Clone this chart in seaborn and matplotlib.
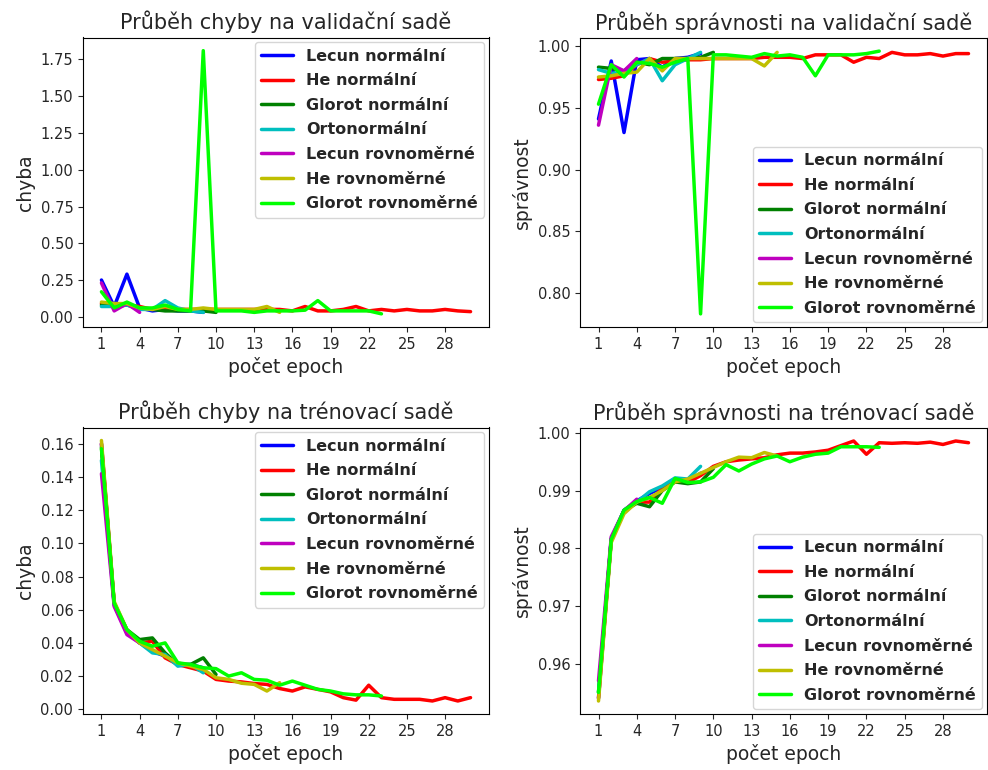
import matplotlib
matplotlib.use("Agg")
import matplotlib.pyplot as plt
import seaborn as sns
import pandas as pd

sns.set_style("ticks")
plt.rcParams["font.family"] = ["DejaVu Sans"]

names = ["Lecun normální", "He normální", "Glorot normální", "Ortonormální",
         "Lecun rovnoměrné", "He rovnoměrné", "Glorot rovnoměrné"]
colors = ["b", "r", "g", "c", "m", "y", "lime"]
xticks = list(range(1, 31, 3))

# ---- validation loss ----
vl_lecun_n = [0.25, 0.07, 0.29, 0.06, 0.04, 0.05, 0.04, 0.04, 0.03]
vl_he_n = [0.09, 0.08, 0.08, 0.07, 0.05, 0.06, 0.05, 0.05, 0.05, 0.05, 0.05, 0.05, 0.05, 0.05, 0.05,
           0.04, 0.07, 0.04, 0.04, 0.05, 0.07, 0.04, 0.05, 0.04, 0.05, 0.04, 0.04, 0.05, 0.04, 0.035]
vl_glorot_n = [0.08, 0.07, 0.08, 0.06, 0.05, 0.04, 0.04, 0.04, 0.04, 0.03]
vl_orto = [0.07, 0.07, 0.08, 0.05, 0.05, 0.11, 0.06, 0.04, 0.03]
vl_lecun_u = [0.23, 0.04, 0.09, 0.03]
vl_he_u = [0.10, 0.09, 0.09, 0.06, 0.05, 0.07, 0.05, 0.05, 0.06, 0.05, 0.05, 0.05, 0.05, 0.07, 0.03]
vl_glorot_u = [0.17, 0.06, 0.10, 0.06, 0.06, 0.08, 0.05, 0.04, 1.81, 0.04, 0.04, 0.04, 0.03, 0.04,
               0.04, 0.04, 0.045, 0.11, 0.04, 0.04, 0.04, 0.04, 0.02]

# ---- validation accuracy ----
va_lecun_n = [0.941, 0.988, 0.930, 0.989, 0.990, 0.983, 0.990, 0.991, 0.994]
va_he_n = [0.973, 0.974, 0.976, 0.985, 0.990, 0.987, 0.988, 0.989, 0.989, 0.990, 0.990, 0.990, 0.990,
           0.991, 0.991, 0.991, 0.990, 0.993, 0.993, 0.993, 0.987, 0.991, 0.990, 0.995, 0.993, 0.993,
           0.994, 0.992, 0.994, 0.994]
va_glorot_n = [0.983, 0.982, 0.980, 0.987, 0.985, 0.990, 0.990, 0.990, 0.991, 0.995]
va_orto = [0.981, 0.978, 0.979, 0.985, 0.990, 0.972, 0.985, 0.990, 0.995]
va_lecun_u = [0.936, 0.985, 0.980, 0.990]
va_he_u = [0.975, 0.976, 0.978, 0.979, 0.990, 0.980, 0.990, 0.990, 0.990, 0.990, 0.990, 0.990, 0.990,
           0.984, 0.995]
va_glorot_u = [0.953, 0.985, 0.975, 0.987, 0.986, 0.983, 0.987, 0.990, 0.783, 0.993, 0.993, 0.992,
               0.991, 0.994, 0.992, 0.993, 0.991, 0.976, 0.993, 0.993, 0.993, 0.994, 0.996]

# ---- training loss ----
tl_lecun_n = [0.160, 0.063, 0.046, 0.040, 0.035, 0.032, 0.027, 0.027, 0.025]
tl_he_n = [0.160, 0.064, 0.047, 0.040, 0.041, 0.031, 0.027, 0.025, 0.023, 0.018, 0.017, 0.0165, 0.0155,
           0.015, 0.0125, 0.011, 0.0135, 0.012, 0.0105, 0.007, 0.0055, 0.0145, 0.007, 0.006, 0.006,
           0.006, 0.005, 0.007, 0.005, 0.007]
tl_glorot_n = [0.158, 0.064, 0.048, 0.042, 0.043, 0.034, 0.027, 0.027, 0.031, 0.021]
tl_orto = [0.150, 0.063, 0.047, 0.040, 0.034, 0.033, 0.026, 0.027, 0.022]
tl_lecun_u = [0.142, 0.062, 0.045, 0.040]
tl_he_u = [0.162, 0.065, 0.048, 0.040, 0.036, 0.032, 0.028, 0.026, 0.024, 0.019, 0.018, 0.0157, 0.015,
           0.011, 0.016]
tl_glorot_u = [0.157, 0.064, 0.048, 0.041, 0.038, 0.040, 0.028, 0.027, 0.025, 0.0245, 0.020, 0.022,
               0.018, 0.0175, 0.0145, 0.017, 0.0145, 0.012, 0.011, 0.0093, 0.0087, 0.0087, 0.008]

# ---- training accuracy ----
ta_lecun_n = [0.954, 0.9817, 0.9866, 0.9882, 0.9895, 0.9905, 0.992, 0.9915, 0.993]
ta_he_n = [0.954, 0.9815, 0.9865, 0.988, 0.988, 0.9905, 0.9915, 0.9914, 0.9926, 0.9942, 0.995, 0.9953,
           0.9955, 0.9957, 0.9962, 0.9965, 0.9965, 0.9967, 0.997, 0.9978, 0.9986, 0.9963, 0.9983,
           0.9982, 0.9983, 0.9982, 0.9984, 0.998, 0.9986, 0.9983]
ta_glorot_n = [0.955, 0.9815, 0.9865, 0.9878, 0.9872, 0.990, 0.9915, 0.9912, 0.9915, 0.9938]
ta_orto = [0.955, 0.9815, 0.9866, 0.988, 0.9898, 0.9908, 0.9922, 0.992, 0.9942]
ta_lecun_u = [0.957, 0.982, 0.9865, 0.9885]
ta_he_u = [0.9535, 0.981, 0.986, 0.988, 0.9888, 0.990, 0.9915, 0.992, 0.993, 0.994, 0.995, 0.9958,
           0.9957, 0.9966, 0.996]
ta_glorot_u = [0.955, 0.9815, 0.9866, 0.9881, 0.9888, 0.9878, 0.9921, 0.9914, 0.9915, 0.9923, 0.9945,
               0.9934, 0.9946, 0.9955, 0.996, 0.995, 0.9958, 0.9963, 0.9965, 0.9976, 0.9976, 0.9976,
               0.9975]

panels = [
    ("Průběh chyby na validační sadě", "chyba", "upper right",
     [vl_lecun_n, vl_he_n, vl_glorot_n, vl_orto, vl_lecun_u, vl_he_u, vl_glorot_u]),
    ("Průběh správnosti na validační sadě", "správnost", "lower right",
     [va_lecun_n, va_he_n, va_glorot_n, va_orto, va_lecun_u, va_he_u, va_glorot_u]),
    ("Průběh chyby na trénovací sadě", "chyba", "upper right",
     [tl_lecun_n, tl_he_n, tl_glorot_n, tl_orto, tl_lecun_u, tl_he_u, tl_glorot_u]),
    ("Průběh správnosti na trénovací sadě", "správnost", "lower right",
     [ta_lecun_n, ta_he_n, ta_glorot_n, ta_orto, ta_lecun_u, ta_he_u, ta_glorot_u]),
]

W, H = 988, 770
# axes boxes in pixels: left, top, right, bottom
boxes = [(83, 37.5, 489, 327), (580, 38, 987, 327),
         (83, 427.5, 489, 714), (580, 428, 987, 714)]

fig = plt.figure(figsize=(W / 100, H / 100), dpi=100)
palette = dict(zip(names, colors))

for (title, ylab, loc, series), (l, t, r, b) in zip(panels, boxes):
    ax = fig.add_axes([l / W, 1 - b / H, (r - l) / W, (b - t) / H])
    rows = []
    for name, vals in zip(names, series):
        for i, v in enumerate(vals):
            rows.append({"epoch": i + 1, "value": v, "init": name})
    df = pd.DataFrame(rows)
    sns.lineplot(data=df, x="epoch", y="value", hue="init", hue_order=names,
                 palette=palette, estimator=None, sort=False, linewidth=2.5, ax=ax)
    ax.set_title(title, fontsize=15)
    ax.set_xlabel("počet epoch", fontsize=13.5)
    ax.set_ylabel(ylab, fontsize=13.5)
    ax.set_xticks(xticks)
    ax.tick_params(labelsize=10.5)
    for s in ax.spines.values():
        s.set_color("black")
    h, lab = ax.get_legend_handles_labels()
    leg = ax.legend(h, lab, loc=loc, prop={"weight": "bold", "size": 11.5},
                    borderaxespad=0.3, labelspacing=0.6)
    for line in leg.get_lines():
        line.set_linewidth(2.5)

fig.savefig("out.png", dpi=100)
